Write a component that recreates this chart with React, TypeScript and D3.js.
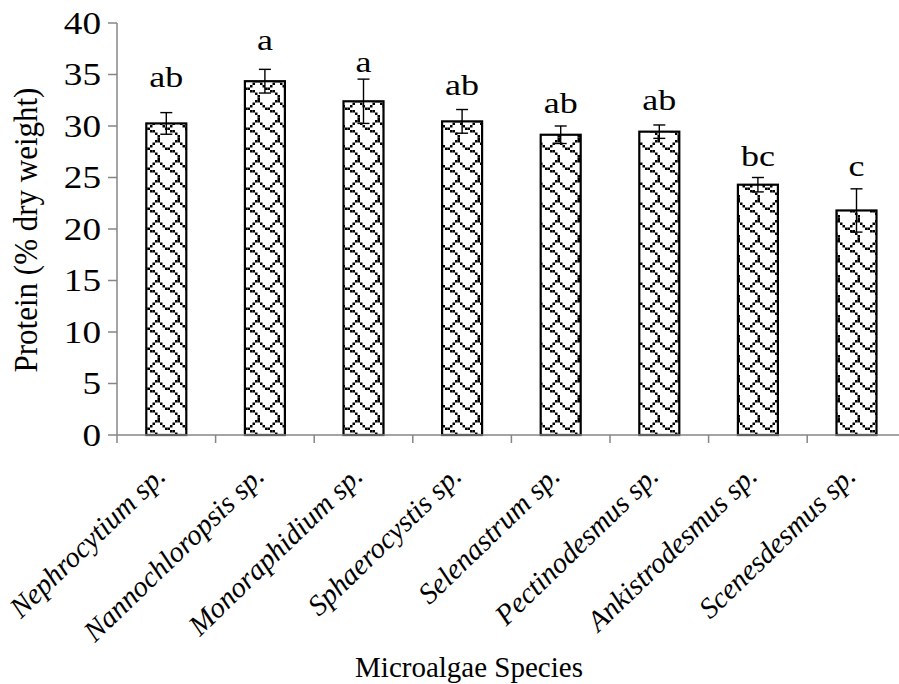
import React from "react";
import * as d3 from "d3";

const categories = [
  "Nephrocytium sp.",
  "Nannochloropsis sp.",
  "Monoraphidium sp.",
  "Sphaerocystis sp.",
  "Selenastrum sp.",
  "Pectinodesmus sp.",
  "Ankistrodesmus sp.",
  "Scenesdesmus sp.",
];
const proteinMeans = [30.25, 34.35, 32.4, 30.45, 29.15, 29.45, 24.3, 21.8];
const proteinErrors = [1.05, 1.15, 2.15, 1.15, 0.85, 0.65, 0.7, 2.1];
const groupLetters = ["ab", "a", "a", "ab", "ab", "ab", "bc", "c"];
const letterLevels = [33.8, 37.4, 35.2, 33.0, 31.3, 31.55, 26.1, 25.1];
const yTicks = [0, 5, 10, 15, 20, 25, 30, 35, 40];

// 8x8 shingle bitmap
const shingleRows = [0x03, 0x84, 0x48, 0x30, 0x0c, 0x02, 0x01, 0x01];

const W = 899;
const H = 684;
const left = 117;
const step = 98.6;
const top = 23;
const bottom = 435;
const axisColor = "#868686";
const serif = "Liberation Serif";
const SX = 1.2;

export default function App() {
  const x = d3
    .scaleBand<string>()
    .domain(categories)
    .range([left, left + step * categories.length])
    .paddingInner(0)
    .paddingOuter(0);
  const y = d3.scaleLinear().domain([0, 40]).range([bottom, top]);
  const barW = 40;
  const px = 2.5;
  const cells: { cx: number; cy: number }[] = [];
  shingleRows.forEach((row, r) => {
    for (let c = 0; c < 8; c++) {
      if (row & (0x80 >> c)) cells.push({ cx: c, cy: r });
    }
  });

  return (
    <svg width={W} height={H} style={{ position: "absolute", left: 0, top: 0, background: "#fff" }}>
      <defs>
        <pattern id="shingle" patternUnits="userSpaceOnUse" width={8 * px} height={8 * px}>
          <rect width={8 * px} height={8 * px} fill="#fff" />
          {cells.map((p, i) => (
            <rect key={i} x={p.cx * px} y={p.cy * px} width={px} height={px} fill="#000" />
          ))}
        </pattern>
      </defs>
      <rect width={W} height={H} fill="#fff" />
      {/* bars */}
      {categories.map((c, i) => {
        const cx = (x(c) as number) + x.bandwidth() / 2;
        const v = proteinMeans[i];
        return (
          <rect
            key={c}
            x={cx - barW / 2}
            y={y(v)}
            width={barW}
            height={y(0) - y(v)}
            fill="url(#shingle)"
            stroke="#000"
            strokeWidth={2.2}
          />
        );
      })}
      {/* error bars */}
      {categories.map((c, i) => {
        const cx = (x(c) as number) + x.bandwidth() / 2;
        const v = proteinMeans[i];
        const e = proteinErrors[i];
        return (
          <g key={"e" + c} stroke="#000" strokeWidth={1.4}>
            <line x1={cx} x2={cx} y1={y(v + e)} y2={y(v - e)} />
            <line x1={cx - 6} x2={cx + 6} y1={y(v + e)} y2={y(v + e)} />
            <line x1={cx - 6} x2={cx + 6} y1={y(v - e)} y2={y(v - e)} />
          </g>
        );
      })}
      {/* letters */}
      {categories.map((c, i) => {
        const cx = (x(c) as number) + x.bandwidth() / 2;
        return (
          <text
            key={"l" + c}
            transform={`translate(${cx},${y(letterLevels[i])}) scale(${SX},1)`}
            textAnchor="middle"
            fontFamily={serif}
            fontSize={30}
            fill="#000"
          >
            {groupLetters[i]}
          </text>
        );
      })}
      {/* y axis */}
      <line x1={left} x2={left} y1={top} y2={bottom} stroke={axisColor} strokeWidth={1.5} />
      {yTicks.map((t) => (
        <g key={"yt" + t}>
          <line x1={left - 9} x2={left} y1={y(t)} y2={y(t)} stroke={axisColor} strokeWidth={1.5} />
          <text
            transform={`translate(101,${y(t)}) scale(${SX},1)`}
            dy="0.34em"
            textAnchor="end"
            fontFamily={serif}
            fontSize={31}
            fill="#000"
          >
            {t}
          </text>
        </g>
      ))}
      {/* x axis */}
      <line x1={left} x2={W} y1={bottom} y2={bottom} stroke={axisColor} strokeWidth={1.5} />
      {d3.range(categories.length + 1).map((i) => (
        <line
          key={"xt" + i}
          x1={left + i * step}
          x2={left + i * step}
          y1={bottom}
          y2={bottom + 8}
          stroke={axisColor}
          strokeWidth={1.5}
        />
      ))}
      {categories.map((c) => {
        const cx = (x(c) as number) + x.bandwidth() / 2;
        return (
          <text
            key={"xl" + c}
            transform={`translate(${cx + 1},${478}) rotate(-44)`}
            textAnchor="end"
            fontFamily={serif}
            fontStyle="italic"
            fontSize={29}
            fill="#000"
          >
            {c}
          </text>
        );
      })}
      <text
        x={469}
        y={677}
        textAnchor="middle"
        fontFamily={serif}
        fontSize={29}
        fill="#000"
      >
        Microalgae Species
      </text>
      <text
        transform={`translate(37,230) scale(1.1,1) rotate(-90)`}
        textAnchor="middle"
        fontFamily={serif}
        fontSize={31}
        fill="#000"
      >
        Protein (% dry weight)
      </text>
    </svg>
  );
}
